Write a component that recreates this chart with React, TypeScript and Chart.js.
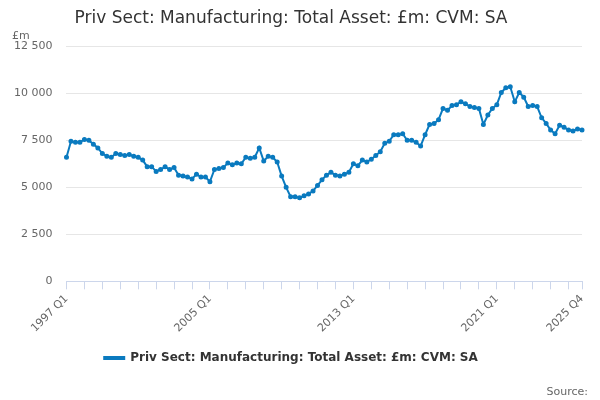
import React, { useEffect, useRef } from "react";
import { Chart, registerables } from "chart.js";
Chart.register(...registerables);

const years = Array.from({ length: 29 }, (_, i) => 1997 + i);
const labels: string[] = years.flatMap((y) => [1, 2, 3, 4].map((q) => `${y} Q${q}`));
const values = [
  6600, 7450, 7400, 7400,
  7550, 7500, 7300, 7100,
  6800, 6650, 6600, 6800,
  6750, 6700, 6750, 6650,
  6600, 6450, 6100, 6100,
  5850, 5950, 6100, 5950,
  6050, 5650, 5600, 5550,
  5450, 5700, 5550, 5550,
  5300, 5950, 6000, 6050,
  6300, 6200, 6300, 6250,
  6600, 6550, 6600, 7100,
  6400, 6650, 6600, 6350,
  5600, 5000, 4500, 4500,
  4450, 4550, 4650, 4800,
  5100, 5400, 5650, 5800,
  5650, 5600, 5700, 5800,
  6250, 6150, 6450, 6350,
  6500, 6700, 6900, 7350,
  7450, 7800, 7800, 7850,
  7500, 7500, 7400, 7200,
  7800, 8350, 8400, 8600,
  9200, 9100, 9350, 9400,
  9550, 9450, 9300, 9250,
  9200, 8350, 8850, 9200,
  9400, 10050, 10300, 10350,
  9550, 10050, 9800, 9300,
  9350, 9300, 8700, 8400,
  8050, 7850, 8300, 8200,
  8050, 8000, 8100, 8050,
];
const shownLabels = ["1997 Q1", "2005 Q1", "2013 Q1", "2021 Q1", "2025 Q4"];
const seriesName = "Priv Sect: Manufacturing: Total Asset: £m: CVM: SA";

export default function App() {
  const ref = useRef<HTMLCanvasElement>(null);
  useEffect(() => {
    const font = "'DejaVu Sans', sans-serif";
    const chart = new Chart(ref.current!, {
      type: "line",
      data: {
        labels,
        datasets: [{
          label: seriesName,
          data: values,
          borderColor: "#0a7abf",
          backgroundColor: "#0a7abf",
          borderWidth: 2,
          pointRadius: 1.5,
          pointHoverRadius: 3,
          tension: 0,
        }],
      },
      options: {
        animation: false,
        responsive: false,
        layout: { padding: { left: 0, right: 18, top: 0, bottom: 26 } },
        plugins: {
          title: {
            display: true,
            text: "Priv Sect: Manufacturing: Total Asset: £m: CVM: SA",
            align: "center",
            color: "#333",
            font: { family: font, size: 17, weight: "normal" },
            padding: { top: 8, bottom: 18 },
          },
          legend: {
            position: "bottom",
            labels: {
              color: "#333",
              font: { family: font, size: 12, weight: "bold" },
              boxWidth: 20,
              boxHeight: 2,
              padding: 14,
            },
          },
          tooltip: { enabled: false },
        },
        scales: {
          x: {
            grid: {
              drawOnChartArea: false,
              drawTicks: true,
              tickLength: 8,
              color: (ctx: any) => {
                const l = labels[ctx.index];
                return l && (l.endsWith("Q1") || l === "2025 Q4") ? "#ccd6eb" : "transparent";
              },
            },
            border: { color: "#ccd6eb" },
            ticks: {
              autoSkip: false,
              maxRotation: 45,
              minRotation: 45,
              color: "#666",
              font: { family: font, size: 11 },
              callback: (_v: any, i: number) => (shownLabels.includes(labels[i]) ? labels[i] : ""),
            },
          },
          y: {
            min: 0,
            max: 12500,
            grid: { color: "#e6e6e6", drawTicks: false },
            border: { display: false },
            ticks: {
              stepSize: 2500,
              padding: 14,
              color: "#666",
              font: { family: font, size: 11 },
              callback: (v: any) => String(v).replace(/\B(?=(\d{3})+(?!\d))/g, " "),
            },
          },
        },
      },
      plugins: [{
        id: "extras",
        afterDraw(c: any) {
          const ctx = c.ctx;
          ctx.save();
          ctx.font = `11px ${font}`;
          ctx.fillStyle = "#666";
          ctx.textAlign = "left";
          ctx.fillText("£m", 12, 36);
          ctx.textAlign = "right";
          ctx.fillText("Source:", 588, 392);
          ctx.restore();
        },
      }],
    } as any);
    return () => chart.destroy();
  }, []);
  return <canvas ref={ref} width={600} height={400} style={{ position: "absolute", left: 0, top: 0 }} />;
}
